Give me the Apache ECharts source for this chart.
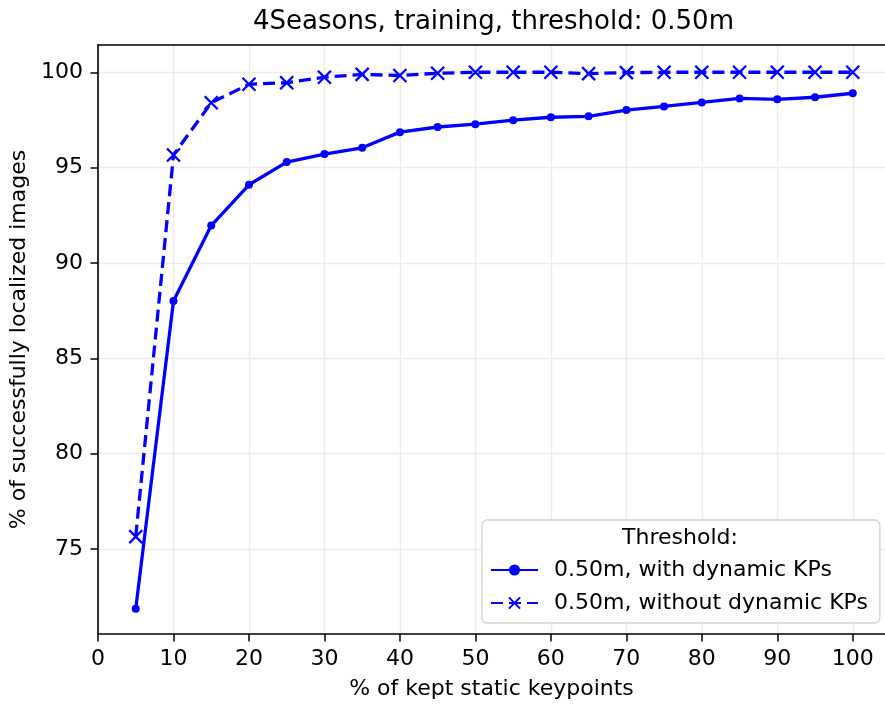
<!DOCTYPE html>
<html>
<head>
<meta charset="utf-8">
<script src="https://cdn.jsdelivr.net/npm/echarts@6/dist/echarts.min.js"></script>
<style>html,body{margin:0;padding:0;background:#fff;}#c{width:885px;height:705px;}</style>
</head>
<body>
<div id="c"></div>
<script>
var keptPercent = [5, 10, 15, 20, 25, 30, 35, 40, 45, 50, 55, 60, 65, 70, 75, 80, 85, 90, 95, 100];
var withDynamic = [71.86, 88.0, 91.96, 94.10, 95.29, 95.71, 96.04, 96.86, 97.13, 97.28, 97.49, 97.64, 97.69, 98.02, 98.21, 98.42, 98.63, 98.58, 98.69, 98.90];
var withoutDynamic = [75.65, 95.66, 98.40, 99.37, 99.45, 99.74, 99.89, 99.83, 99.95, 100.0, 100.0, 100.0, 99.93, 99.98, 100.0, 100.0, 100.0, 100.0, 100.0, 100.0];
var xTicks = [0, 10, 20, 30, 40, 50, 60, 70, 80, 90, 100];
var yTicks = [75, 80, 85, 90, 95, 100];
var seriesNames = ['0.50m, with dynamic KPs', '0.50m, without dynamic KPs'];
var titleText = '4Seasons, training, threshold: 0.50m';
var legendTitle = 'Threshold:';
var xName = '% of kept static keypoints';
var yName = '% of successfully localized images';

var FONT = 'DejaVu Sans';
var BLUE = '#0000ff';
var X_MAX = 104.27;
function pairs(xs, ys) { return xs.map(function (x, i) { return [x, ys[i]]; }); }

var chart = echarts.init(document.getElementById('c'), null, {renderer: 'canvas'});
chart.setOption({
  backgroundColor: '#ffffff',
  animation: false,
  grid: {left: 98, top: 45, bottom: 71, right: 0, show: false},
  xAxis: [{
    type: 'value', min: 0, max: X_MAX, interval: 10,
    name: xName, nameLocation: 'middle', nameGap: 44,
    nameTextStyle: {fontFamily: FONT, fontSize: 22, color: '#000'},
    axisLine: {show: true, onZero: false, lineStyle: {color: '#000', width: 1.6}},
    axisTick: {show: true, length: 7.5, lineStyle: {color: '#000', width: 1.5}, customValues: xTicks},
    axisLabel: {fontFamily: FONT, fontSize: 22, color: '#000', margin: 14, customValues: xTicks},
    splitLine: {show: true, lineStyle: {color: '#ececec', width: 1.4}}
  }, {
    type: 'value', position: 'top', min: 0, max: X_MAX,
    axisLine: {show: true, onZero: false, lineStyle: {color: '#000', width: 1.6}},
    axisTick: {show: false}, axisLabel: {show: false}, splitLine: {show: false}
  }],
  yAxis: {
    type: 'value', min: 70.54, max: 101.43,
    name: yName, nameLocation: 'middle', nameGap: 63, nameRotate: 90,
    nameTextStyle: {fontFamily: FONT, fontSize: 22, color: '#000'},
    axisLine: {show: true, onZero: false, lineStyle: {color: '#000', width: 1.6}},
    axisTick: {show: true, length: 7.5, lineStyle: {color: '#000', width: 1.5}, customValues: yTicks},
    axisLabel: {fontFamily: FONT, fontSize: 22, color: '#000', margin: 15, customValues: yTicks},
    splitLine: {show: true, lineStyle: {color: '#ececec', width: 1.4}}
  },
  legend: {
    orient: 'vertical', left: 482, top: 520,
    padding: [37, 12, 7, 8], itemGap: 7, itemWidth: 47, itemHeight: 14,
    backgroundColor: '#ffffff', borderColor: '#d4d4d4', borderWidth: 1.4, borderRadius: 5,
    textStyle: {fontFamily: FONT, fontSize: 22, color: '#000', lineHeight: 26, padding: [0, 0, 0, 11]},
    data: seriesNames
  },
  graphic: [
    {type: 'text', x: 493.5, y: 22, z: 100, style: {text: titleText, font: '26px "DejaVu Sans"', fill: '#000', textAlign: 'center', textVerticalAlign: 'middle'}},
    {type: 'text', x: 680, y: 538, z: 100, style: {text: legendTitle, font: '22px "DejaVu Sans"', fill: '#000', textAlign: 'center', textVerticalAlign: 'middle'}}
  ],
  series: [
    {
      name: seriesNames[0], type: 'line', data: pairs(keptPercent, withDynamic),
      symbol: 'circle', symbolSize: 8, showAllSymbol: true,
      lineStyle: {color: BLUE, width: 3.3},
      itemStyle: {color: BLUE, borderWidth: 0},
      z: 3
    },
    {
      name: seriesNames[1], type: 'line', data: pairs(keptPercent, withoutDynamic),
      symbol: 'path://M0,0L10,10M10,0L0,10', symbolSize: 13, showAllSymbol: true,
      lineStyle: {color: BLUE, width: 3.3, type: [12, 6]},
      itemStyle: {color: 'none', borderColor: BLUE, borderWidth: 2.3},
      z: 4
    }
  ]
});
</script>
</body>
</html>
